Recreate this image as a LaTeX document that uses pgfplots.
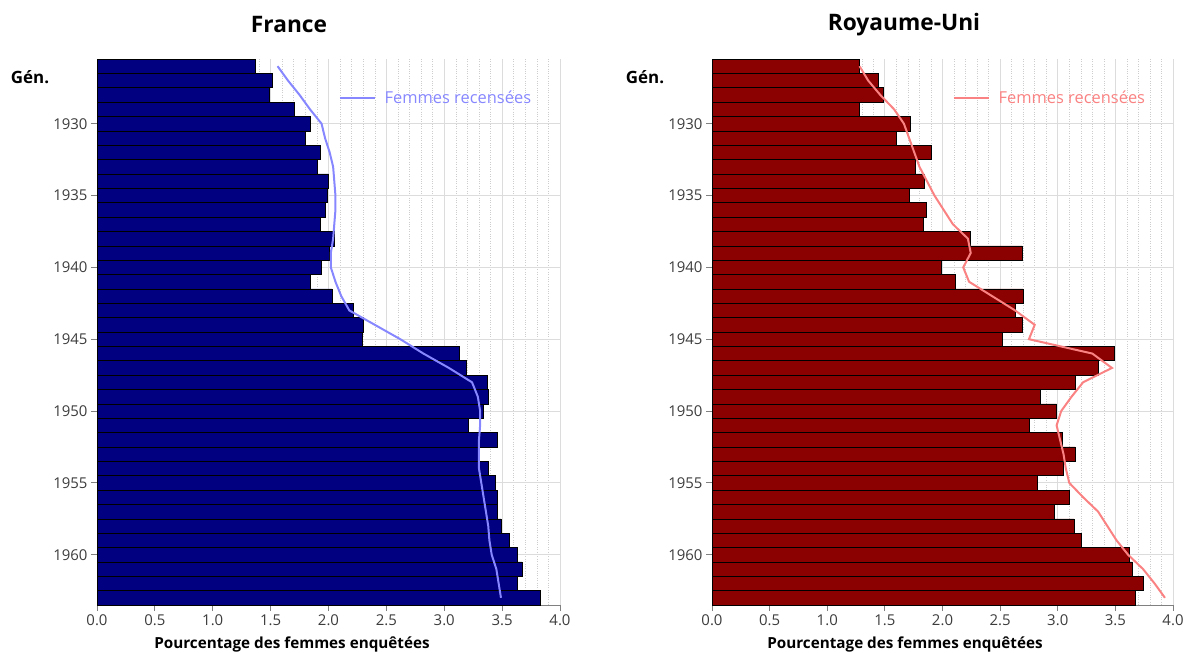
\documentclass[border=0pt]{standalone}
\usepackage{pgfplots}
\usepackage{pgfplotstable}
\pgfplotsset{compat=1.18}
\usepackage{fontspec}
\setmainfont{Open Sans}

\definecolor{frbar}{RGB}{0,0,128}
\definecolor{ukbar}{RGB}{139,0,0}
\definecolor{frline}{RGB}{135,135,255}
\definecolor{ukline}{RGB}{250,130,130}
\definecolor{gridmaj}{RGB}{220,220,220}
\definecolor{gridmin}{RGB}{205,205,205}
\definecolor{ticktext}{RGB}{60,60,60}

% annee, barres (enquete), ligne (recensement)
\pgfplotstableread{
year bar line
1926 1.37 1.56
1927 1.51 1.65
1928 1.49 1.75
1929 1.70 1.84
1930 1.84 1.94
1931 1.80 1.97
1932 1.93 2.01
1933 1.90 2.04
1934 2.00 2.05
1935 1.99 2.06
1936 1.97 2.06
1937 1.93 2.05
1938 2.05 2.04
1939 2.01 2.02
1940 1.94 2.02
1941 1.84 2.06
1942 2.03 2.11
1943 2.21 2.18
1944 2.30 2.40
1945 2.29 2.62
1946 3.13 2.82
1947 3.19 3.04
1948 3.37 3.24
1949 3.38 3.29
1950 3.34 3.31
1951 3.21 3.31
1952 3.46 3.30
1953 3.30 3.30
1954 3.38 3.30
1955 3.44 3.32
1956 3.46 3.34
1957 3.46 3.36
1958 3.49 3.38
1959 3.56 3.39
1960 3.63 3.41
1961 3.67 3.45
1962 3.63 3.47
1963 3.83 3.49
}\france

\pgfplotstableread{
year bar line
1926 1.28 1.28
1927 1.44 1.355
1928 1.49 1.46
1929 1.28 1.58
1930 1.72 1.665
1931 1.60 1.71
1932 1.90 1.755
1933 1.76 1.80
1934 1.84 1.865
1935 1.71 1.93
1936 1.86 2.01
1937 1.83 2.09
1938 2.24 2.22
1939 2.69 2.245
1940 1.99 2.18
1941 2.11 2.23
1942 2.70 2.43
1943 2.63 2.63
1944 2.69 2.80
1945 2.52 2.75
1946 3.49 3.30
1947 3.35 3.47
1948 3.15 3.22
1949 2.85 3.12
1950 2.99 3.03
1951 2.75 2.99
1952 3.04 3.02
1953 3.15 3.05
1954 3.05 3.07
1955 2.82 3.10
1956 3.10 3.22
1957 2.97 3.35
1958 3.14 3.43
1959 3.20 3.51
1960 3.62 3.61
1961 3.65 3.74
1962 3.74 3.84
1963 3.67 3.93
}\uk

\pgfplotsset{pyr/.style={
  scale only axis, height=546bp,
  anchor=south west,
  xmin=0, xmax=4, ymin=1925.5, ymax=1963.5, y dir=reverse,
  xtick={0,0.5,...,4}, minor x tick num=4,
  ytick={1930,1935,...,1960},
  xmajorgrids, ymajorgrids, xminorgrids,
  major grid style={gridmaj, line width=0.8pt},
  minor grid style={gridmin, dotted, line width=0.6pt},
  axis x line*=bottom, axis y line*=left,
  axis line style={gray, line width=0.8pt},
  tick style={gray, line width=0.8pt},
  tick align=outside, major tick length=6bp, minor tick length=0pt,
  /pgf/number format/assume math mode=true,
  xticklabel={\pgfmathprintnumber[fixed,fixed zerofill,precision=1]{\tick}},
  yticklabel={\pgfmathprintnumber[1000 sep={}]{\tick}},
  tick label style={ticktext, font=\fontsize{15}{15}\selectfont},
  legend style={draw=none, fill=none, at={(0.515,0.95)}, anchor=north west,
    font=\fontsize{16.5}{16.5}\selectfont},
  legend cell align=left,
}}

\begin{document}
\begin{tikzpicture}
\path[use as bounding box] (0,0) rectangle (1186bp,653bp);

\begin{axis}[pyr, width=463bp, at={(97bp,48bp)}, legend style={text=frline},
  legend image code/.code={\draw[frline, line width=2bp] (0bp,0bp) -- (35bp,0bp); \path (42bp,0bp);}]
  \addplot[xbar, bar width=1, fill=frbar, draw=black, line width=0.5bp, forget plot]
    table[x=bar, y=year] {\france};
  \addplot[frline, line width=2bp] table[x=line, y=year] {\france};
  \addlegendentry{Femmes recensées}
\end{axis}

\begin{axis}[pyr, width=461bp, at={(712bp,48bp)}, legend style={text=ukline},
  legend image code/.code={\draw[ukline, line width=2bp] (0bp,0bp) -- (35bp,0bp); \path (42bp,0bp);}]
  \addplot[xbar, bar width=1, fill=ukbar, draw=black, line width=0.5bp, forget plot]
    table[x=bar, y=year] {\uk};
  \addplot[ukline, line width=2bp] table[x=line, y=year] {\uk};
  \addlegendentry{Femmes recensées}
\end{axis}

\node[font=\bfseries\fontsize{22.8}{22.8}\selectfont] at (289bp,628bp) {France};
\node[font=\bfseries\fontsize{22.8}{22.8}\selectfont] at (904bp,628bp) {Royaume-Uni};
\node[font=\bfseries\fontsize{15.3}{15.3}\selectfont] at (292bp,9bp) {Pourcentage des femmes enquêtées};
\node[font=\bfseries\fontsize{15.3}{15.3}\selectfont] at (905bp,9bp) {Pourcentage des femmes enquêtées};
\node[font=\bfseries\fontsize{17}{17}\selectfont] at (30bp,576bp) {Gén.};
\node[font=\bfseries\fontsize{17}{17}\selectfont] at (645bp,576bp) {Gén.};
\end{tikzpicture}
\end{document}
